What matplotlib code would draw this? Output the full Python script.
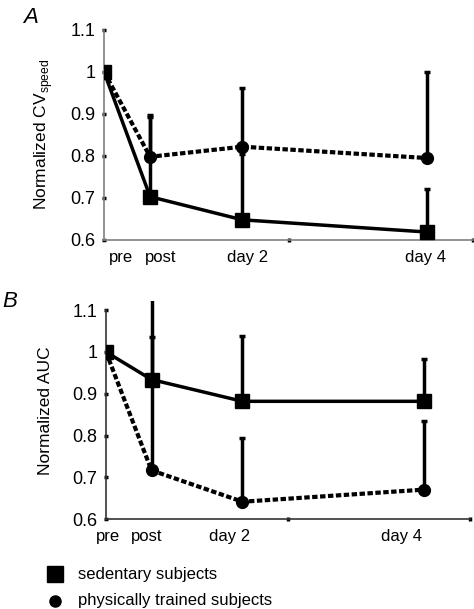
import matplotlib
matplotlib.use("Agg")
import matplotlib.pyplot as plt
import numpy as np

plt.rcParams['font.family'] = ['Liberation Sans', 'DejaVu Sans']
plt.rcParams['font.size'] = 12

# time points (x in "days", pre drawn at the origin)
timepoints = ['pre', 'post', 'day 2', 'day 4']
x_days = [0.5, 1, 2, 4]

# panel A: normalized CV speed
cv_sed = [1.0, 0.703, 0.648, 0.619]
cv_sed_sd = [0, 0.19, 0.157, 0.102]
cv_trained = [1.0, 0.798, 0.822, 0.795]
cv_trained_sd = [0, 0.10, 0.14, 0.205]

# panel B: normalized AUC
auc_sed = [1.0, 0.934, 0.882, 0.882]
auc_sed_sd = [0, 0.22, 0.157, 0.10]
auc_trained = [1.0, 0.717, 0.642, 0.671]
auc_trained_sd = [0, 0.318, 0.153, 0.163]

yticks = [0.6, 0.7, 0.8, 0.9, 1, 1.1]
ytick_labels = ['0.6', '0.7', '0.8', '0.9', '1', '1.1']


def draw_panel(ax, sed, sed_sd, tr, tr_sd, label_x, spine_col):
    # only upper error bars
    ax.errorbar(x_days[1:], sed[1:], yerr=[np.zeros(3), sed_sd[1:]], fmt='none',
                ecolor='black', elinewidth=2.5, capsize=2.5, capthick=2.5, zorder=2)
    ax.errorbar(x_days[1:], tr[1:], yerr=[np.zeros(3), tr_sd[1:]], fmt='none',
                ecolor='black', elinewidth=2.5, capsize=2.5, capthick=2.5, zorder=2)
    ax.plot(x_days, sed, color='black', lw=2.5, marker='s', ms=10.5, zorder=4)
    ax.plot(x_days, tr, color='black', lw=3, ls=(0, (1.3, 0.6)), marker='o',
            ms=8.5, zorder=3)
    ax.set_xlim(0.5, 4.5)
    ax.set_ylim(0.6, 1.122)
    for s in ['top', 'right']:
        ax.spines[s].set_visible(False)
    ax.spines['left'].set_bounds(0.6, 1.1)
    ax.spines['left'].set_color(spine_col)
    ax.spines['bottom'].set_color(spine_col)
    ax.spines['left'].set_linewidth(1.2)
    ax.spines['bottom'].set_linewidth(1.2)
    ax.set_yticks(yticks)
    ax.set_yticklabels(ytick_labels, fontsize=13)
    ax.tick_params(axis='y', length=2.5, width=2.5, direction='inout', pad=5,
                   color='black')
    ax.set_xticks(label_x)
    ax.set_xticklabels(timepoints)
    ax.tick_params(axis='x', which='major', length=0, pad=7)
    ax.set_xticks([2.5, 4.5], minor=True)
    ax.tick_params(axis='x', which='minor', length=2.5, width=2.5,
                   direction='inout', color='black')


fig = plt.figure(figsize=(4.74, 6.09), dpi=100)
axA = fig.add_axes([104 / 474, 1 - 240 / 609, 369 / 474, 219.4 / 609])
axB = fig.add_axes([106 / 474, 1 - 519.3 / 609, 364 / 474, 218.4 / 609])

draw_panel(axA, cv_sed, cv_sed_sd, cv_trained, cv_trained_sd,
           [0.684, 1.118, 2.061, 3.99], '#808080')
draw_panel(axB, auc_sed, auc_sed_sd, auc_trained, auc_trained_sd,
           [0.522, 0.95, 1.86, 3.75], '#333333')

axA.set_ylabel('Normalized CV$_{\\mathregular{speed}}$', fontsize=12.5)
axA.yaxis.set_label_coords(-0.133, 0.483)
axB.set_ylabel('Normalized AUC', fontsize=12.5)
axB.yaxis.set_label_coords(-0.146, 0.496)

fig.text(23 / 474, 1 - 7 / 609, 'A', fontsize=16, style='italic', va='top')
fig.text(2 / 474, 1 - 291 / 609, 'B', fontsize=16, style='italic', va='top')

# legend drawn by hand
fig.lines.append(plt.Line2D([55 / 474], [1 - 574 / 609], marker='s', ms=11,
                            color='black', ls='none', transform=fig.transFigure))
fig.lines.append(plt.Line2D([55 / 474], [1 - 601 / 609], marker='o', ms=8,
                            color='black', ls='none', transform=fig.transFigure))
fig.text(78 / 474, 1 - 574 / 609, 'sedentary subjects', va='center')
fig.text(78 / 474, 1 - 601 / 609, 'physically trained subjects', va='center')

fig.savefig('out.png', dpi=100)
